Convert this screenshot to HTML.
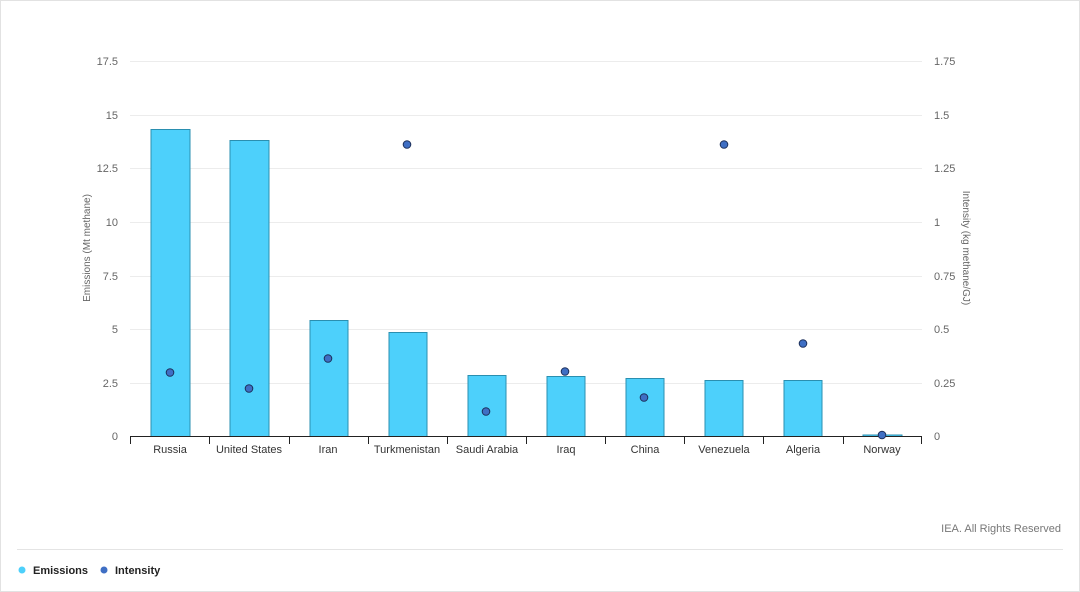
<!DOCTYPE html>
<html><head><meta charset="utf-8"><style>
html,body{margin:0;padding:0;background:#fff;}
svg{display:block;font-family:"Liberation Sans",sans-serif;}
</style></head><body>
<svg width="1080" height="592" viewBox="0 0 1080 592" xmlns="http://www.w3.org/2000/svg">
<rect x="0.5" y="0.5" width="1079" height="591" fill="#fff" stroke="#e2e2e2"/>
<g stroke="#ececec" stroke-width="1">
<line x1="130" x2="922" y1="61.5" y2="61.5"/>
<line x1="130" x2="922" y1="115.5" y2="115.5"/>
<line x1="130" x2="922" y1="168.5" y2="168.5"/>
<line x1="130" x2="922" y1="222.5" y2="222.5"/>
<line x1="130" x2="922" y1="276.5" y2="276.5"/>
<line x1="130" x2="922" y1="329.5" y2="329.5"/>
<line x1="130" x2="922" y1="383.5" y2="383.5"/>
</g>
<g font-size="11" fill="#666" text-anchor="end">
<text x="118" y="65">17.5</text><text x="118" y="119">15</text><text x="118" y="172">12.5</text>
<text x="118" y="226">10</text><text x="118" y="280">7.5</text><text x="118" y="333">5</text>
<text x="118" y="387">2.5</text><text x="118" y="440">0</text>
</g>
<g font-size="11" fill="#666" text-anchor="start">
<text x="934" y="65">1.75</text><text x="934" y="119">1.5</text><text x="934" y="172">1.25</text>
<text x="934" y="226">1</text><text x="934" y="280">0.75</text><text x="934" y="333">0.5</text>
<text x="934" y="387">0.25</text><text x="934" y="440">0</text>
</g>
<text transform="translate(90,248) rotate(-90)" font-size="10" fill="#666" text-anchor="middle">Emissions (Mt methane)</text>
<text transform="translate(963,248) rotate(90)" font-size="10" fill="#666" text-anchor="middle">Intensity (kg methane/GJ)</text>
<g fill="#4dd0fb" stroke="#2a8fb0" stroke-width="1">
<rect x="151" y="129.5" width="39" height="307"/>
<rect x="230" y="140.5" width="39" height="296"/>
<rect x="310" y="320.5" width="38" height="116"/>
<rect x="389" y="332.5" width="38" height="104"/>
<rect x="468" y="375.5" width="38" height="61"/>
<rect x="547" y="376.5" width="38" height="60"/>
<rect x="626" y="378.5" width="38" height="58"/>
<rect x="705" y="380.5" width="38" height="56"/>
<rect x="784" y="380.5" width="38" height="56"/>
<rect x="863" y="435" width="39" height="1.5"/>
</g>
<g stroke="#222" stroke-width="1">
<line x1="130" x2="922" y1="436.5" y2="436.5"/>
<line x1="130.5" x2="130.5" y1="436" y2="444"/><line x1="209.5" x2="209.5" y1="436" y2="444"/>
<line x1="289.5" x2="289.5" y1="436" y2="444"/><line x1="368.5" x2="368.5" y1="436" y2="444"/>
<line x1="447.5" x2="447.5" y1="436" y2="444"/><line x1="526.5" x2="526.5" y1="436" y2="444"/>
<line x1="605.5" x2="605.5" y1="436" y2="444"/><line x1="684.5" x2="684.5" y1="436" y2="444"/>
<line x1="763.5" x2="763.5" y1="436" y2="444"/><line x1="843.5" x2="843.5" y1="436" y2="444"/>
<line x1="921.5" x2="921.5" y1="436" y2="444"/>
</g>
<g font-size="11" fill="#333" text-anchor="middle">
<text x="170" y="453">Russia</text><text x="249" y="453">United States</text><text x="328" y="453">Iran</text>
<text x="407" y="453">Turkmenistan</text><text x="487" y="453">Saudi Arabia</text><text x="566" y="453">Iraq</text>
<text x="645" y="453">China</text><text x="724" y="453">Venezuela</text><text x="803" y="453">Algeria</text>
<text x="882" y="453">Norway</text>
</g>
<g fill="#3f6fc4" stroke="#1c2f5a" stroke-width="1">
<circle cx="170" cy="372.5" r="3.8"/><circle cx="249" cy="388.5" r="3.8"/><circle cx="328" cy="358.5" r="3.8"/>
<circle cx="407" cy="144.5" r="3.8"/><circle cx="486" cy="411.5" r="3.8"/><circle cx="565" cy="371.5" r="3.8"/>
<circle cx="644" cy="397.5" r="3.8"/><circle cx="724" cy="144.5" r="3.8"/><circle cx="803" cy="343.5" r="3.8"/>
<circle cx="882" cy="435" r="3.8"/>
</g>
<text x="1061" y="532" font-size="11" fill="#777" text-anchor="end">IEA. All Rights Reserved</text>
<line x1="17" x2="1063" y1="549.5" y2="549.5" stroke="#e4e4e4"/>
<circle cx="22" cy="570" r="3.5" fill="#4dd0fb"/>
<text x="33" y="574" font-size="11" font-weight="bold" fill="#222">Emissions</text>
<circle cx="104" cy="570" r="3.5" fill="#3f6fc4"/>
<text x="115" y="574" font-size="11" font-weight="bold" fill="#222">Intensity</text>
</svg>
</body></html>
